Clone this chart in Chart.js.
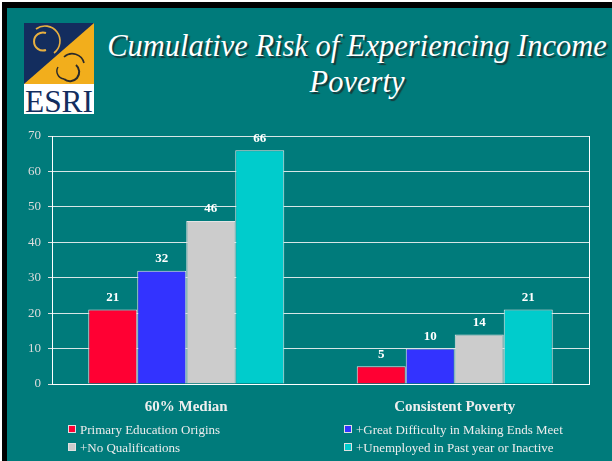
<html>
<head>
  <title>Cumulative Risk of Experiencing Income Poverty</title>
  <script src="https://cdn.jsdelivr.net/npm/chart.js"></script>
  <style>
    body { margin: 0; background: #fff; width: 612px; height: 461px; overflow: hidden; position: relative; }
    #slide { position: absolute; left: 2px; top: 2px; width: 605px; height: 453px; border-left: 5px solid #000; border-top: 6px solid #000; background: #007b7b; }
    #logo { position: absolute; left: 24px; top: 23px; }
    #titulo { position: absolute; left: 102px; top: 28px; width: 510px; text-align: center; font-style: italic; font-size: 30.5px; font-family: 'Liberation Serif', 'Times New Roman', Times, 'DejaVu Serif', serif; line-height: 36px; color: #fff; text-shadow: 2px 2px 1px #17393a; white-space: nowrap; }
    #grafico { position: absolute; left: 0; top: 0; }
    #legenda { position: absolute; left: 68px; top: 422px; width: 540px; display: grid; grid-template-columns: 276px 260px; row-gap: 2px; font-size: 13px; font-family: 'Liberation Serif', 'Times New Roman', Times, 'DejaVu Serif', serif; color: #ececec; }
    #legenda div { height: 16px; line-height: 16px; white-space: nowrap; }
    #legenda span { display: inline-block; width: 6px; height: 6px; border: 1px solid #e0e0e0; margin-right: 4px; vertical-align: 1px; }
  </style>
</head>
<body>
  <div id="slide"></div>
  <svg id="logo" width="70" height="91" viewBox="0 0 70 91">
    <rect x="0" y="0" width="70" height="61" fill="#f2ae1c"/>
    <polygon points="0,0 70,0 0,61" fill="#132d5e"/>
    <path d="M22 10 A9 9 0 1 0 22 27" fill="none" stroke="#e8b040" stroke-width="2"/>
    <path d="M12 6 A14 14 0 0 1 30 30" fill="none" stroke="#e8b040" stroke-width="1.6"/>
    <path d="M40 34 A12 12 0 0 1 60 40" fill="none" stroke="#2a2a2a" stroke-width="1.6"/>
    <path d="M52 42 A9 9 0 1 1 40 56" fill="none" stroke="#2a2a2a" stroke-width="2"/>
    <path d="M34 44 A8 8 0 0 0 40 56" fill="none" stroke="#2a2a2a" stroke-width="1.4"/>
    <rect x="0" y="61" width="70" height="30" fill="#fff"/>
    <text x="1" y="89" font-family="'Liberation Serif', 'Times New Roman', 'DejaVu Serif', serif" font-size="32" fill="#132d5e" textLength="68" lengthAdjust="spacingAndGlyphs">ESRI</text>
  </svg>
  <div id="titulo">Cumulative Risk of Experiencing Income<br>Poverty</div>
  <canvas id="grafico" width="612" height="461"></canvas>
  <div id="legenda"></div>

  <script>
    const categorias = ['60% Median', 'Consistent Poverty'];
    const series = [
      'Primary Education Origins',
      '+Great Difficulty in Making Ends Meet',
      '+No Qualifications',
      '+Unemployed in Past year or Inactive'
    ];
    const primaria = [21, 5];
    const dificuldade = [32, 10];
    const semQualificacao = [46, 14];
    const desempregado = [66, 21];
    const cores = ['#ff0033', '#3333ff', '#cccccc', '#00cccc'];

    const valores = [primaria, dificuldade, semQualificacao, desempregado];
    const fonte = "'Liberation Serif', 'Times New Roman', 'DejaVu Serif', serif";

    // rótulos de valor acima das barras
    const rotulos = {
      id: 'rotulos',
      afterDatasetsDraw(chart) {
        const ctx = chart.ctx;
        ctx.save();
        ctx.font = 'bold 13px ' + fonte;
        ctx.fillStyle = '#ffffff';
        ctx.textAlign = 'center';
        ctx.textBaseline = 'middle';
        chart.data.datasets.forEach((ds, i) => {
          chart.getDatasetMeta(i).data.forEach((bar, j) => {
            ctx.fillText(ds.data[j], bar.x, bar.y - 12);
          });
        });
        ctx.restore();
      }
    };

    const ctx = document.getElementById('grafico').getContext('2d');
    const grafico = new Chart(ctx, {
      type: 'bar',
      data: {
        labels: categorias,
        datasets: series.map((nome, i) => ({
          label: nome,
          data: valores[i],
          backgroundColor: cores[i],
          borderColor: '#e4e4e4',
          borderWidth: 1,
          barPercentage: 1,
          categoryPercentage: 0.73
        }))
      },
      options: {
        responsive: false,
        animation: false,
        layout: { padding: { top: 136, left: 0, right: 23, bottom: 0 } },
        plugins: { legend: { display: false }, tooltip: { enabled: false } },
        scales: {
          x: {
            grid: { display: false, drawTicks: false },
            border: { color: '#ffffff', width: 1 },
            ticks: { color: '#eeeeee', font: { family: fonte, size: 15, weight: 'bold' }, padding: 14 },
            afterFit: s => { s.height = 77; }
          },
          y: {
            min: 0,
            max: 70,
            ticks: { stepSize: 10, color: '#dddddd', font: { family: fonte, size: 13 }, padding: 7 },
            grid: { color: '#d6e6e6', tickLength: 4, tickColor: '#e0e0e0' },
            border: { color: '#ffffff', width: 1 },
            afterFit: s => { s.width = 52; }
          },
          y2: {
            position: 'right',
            min: 0,
            max: 70,
            ticks: { display: false },
            grid: { drawOnChartArea: false, drawTicks: false },
            border: { color: '#ffffff', width: 1 },
            afterFit: s => { s.width = 0; }
          }
        }
      },
      plugins: [rotulos]
    });

    // legenda em duas colunas, a partir dos itens do próprio gráfico
    const itens = grafico.options.plugins.legend.labels.generateLabels(grafico);
    document.getElementById('legenda').innerHTML = itens.map(it =>
      `<div><span style="background:${it.fillStyle}"></span>${it.text}</div>`
    ).join('');
  </script>
</body>
</html>
